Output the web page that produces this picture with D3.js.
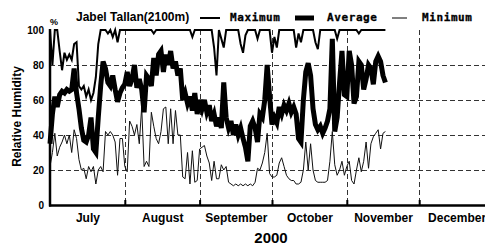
<!DOCTYPE html>
<html><head><meta charset="utf-8">
<script src="https://cdn.jsdelivr.net/npm/d3@7"></script>
<style>body{margin:0;background:#fff;} svg{display:block;}</style>
</head><body><svg id="c" width="485" height="246"></svg>
<script>
// ---- data (daily, starting 1 July 2000) ----
const startYear = 2000, startMonth = 6, startDay = 1;
const maxValues = [
 100,80,100,100,88,77,87,83,86,83,
 92,93,68,66,68,62,66,60,64,73,
 92,100,100,100,98,100,96,100,93,100,
 100,100,100,100,100,100,100,100,100,100,
 100,100,100,98,100,100,100,100,100,100,
 100,100,100,100,100,100,100,100,100,96,
 100,100,100,100,100,100,100,100,90,74,
 100,95,90,100,100,100,100,100,100,92,
 87,97,100,100,100,100,95,100,100,100,
 100,100,87,96,90,100,100,100,100,100,
 100,100,90,98,93,100,100,100,100,100,
 93,89,100,100,100,100,100,100,100,95,
 100,100,100,100,100,100,100,100,98,100,
 100,100,100,100,100,100,100,100,100,100
];
const avgValues = [
 35,52,62,56,63,65,64,66,65,66,78,
 64,55,44,37,36,40,50,32,30,50,68,
 82,78,70,68,74,66,59,64,67,69,76,68,72,80,67,72,66,53,74,
 72,68,84,74,86,
 88,76,86,80,88,78,82,74,78,
 60,64,58,62,54,64,52,
 60,55,60,53,57,48,52,45,50,44,70,50,44,48,40,46,40,44,38,33,25,45,48,44,36,52,50,60,80,62,46,50,47,
 56,52,57,54,58,53,56,52,
 38,36,60,76,81,74,55,46,43,45,41,44,48,55,
 95,42,50,70,88,63,62,88,80,58,62,82,80,66,72,80,78,69,82,85,82,74,70
];
const minValues = [
 22,30,41,28,33,36,40,35,40,30,
 43,38,26,20,21,15,22,19,22,12,
 20,22,19,42,40,42,40,36,17,38,
 38,22,19,48,45,40,46,35,56,22,
 25,22,53,45,38,35,42,55,56,35,
 55,35,54,40,40,16,15,30,12,31,
 13,14,32,33,34,28,24,14,25,15,
 15,23,20,22,13,12,11,12,11,12,
 11,12,11,12,11,13,21,20,24,30,
 41,18,16,16,17,24,27,22,17,15,
 14,14,12,12,13,20,36,20,35,20,
 14,13,13,13,13,14,25,42,23,17,
 20,25,17,22,25,14,12,20,27,19,
 25,36,21,35,39,41,43,32,41,42
];
const monthNames = ["July","August","September","October","November","December"];
const yTicks = [0,20,40,60,80,100];
const gridValues = [20,40,60,80];
const titleText = "Jabel Tallan(2100m)";
const seriesNames = ["Maximum","Average","Minimum"];
const xLabel = "2000";
const yLabel = "Relative Humidity";
const unitLabel = "%";

// ---- chart ----
const svg = d3.select("#c");
const t0 = Date.UTC(startYear, startMonth, startDay);
const domainStart = new Date(Date.UTC(startYear, 6, 1));
const domainEnd = new Date(Date.UTC(startYear + 1, 0, 1));
const x = d3.scaleUtc().domain([domainStart, domainEnd]).range([50, 494]);
const y = d3.scaleLinear().domain([0, 100]).range([205, 30]);
const dates = maxValues.map((_, i) => new Date(t0 + i * 864e5));
const monthStarts = d3.utcMonth.range(domainStart, domainEnd);
const boundaries = monthStarts.slice(1);
const mids = monthStarts.map(m => new Date((+m + +d3.utcMonth.offset(m, 1)) / 2));

// grid
const grid = svg.append("g").attr("stroke", "#333").attr("stroke-width", 1).attr("stroke-dasharray", "5,3");
grid.selectAll(".h").data(gridValues).join("line")
  .attr("x1", 50).attr("x2", 494).attr("y1", d => Math.round(y(d)) + 0.5).attr("y2", d => Math.round(y(d)) + 0.5);
grid.selectAll(".v").data(boundaries).join("line")
  .attr("x1", d => Math.round(x(d)) + 0.5).attr("x2", d => Math.round(x(d)) + 0.5).attr("y1", y(100)).attr("y2", y(0));

// x ticks (inward)
const xTickAxis = svg.append("g").attr("transform", `translate(0,${y(0)})`)
  .call(d3.axisBottom(x).tickValues(boundaries).tickSizeInner(-5).tickSizeOuter(0).tickFormat(""));
xTickAxis.select(".domain").remove();
xTickAxis.selectAll("line").attr("stroke", "#000").attr("stroke-width", 2);

// month labels
const mAxis = svg.append("g").attr("transform", `translate(0,${y(0)})`)
  .call(d3.axisBottom(x).tickValues(mids).tickSize(0).tickPadding(8).tickFormat((d, i) => monthNames[i]));
mAxis.select(".domain").remove();
mAxis.selectAll("text").attr("font-family", "Liberation Sans, Arial, sans-serif").attr("font-weight", "bold").attr("font-size", 12).attr("fill", "#000");

// y axis labels
const yAxis = svg.append("g").attr("transform", "translate(50,0)")
  .call(d3.axisLeft(y).tickValues(yTicks).tickSize(0).tickPadding(6));
yAxis.select(".domain").remove();
yAxis.selectAll("text").attr("font-family", "Liberation Sans, Arial, sans-serif").attr("font-weight", "bold").attr("font-size", 10).attr("fill", "#000");

// series
const line = d3.line().x((d, i) => x(dates[i])).y(d => y(d));
svg.append("path").datum(minValues).attr("d", line).attr("fill", "none").attr("stroke", "#111").attr("stroke-width", 1);
svg.append("path").datum(maxValues).attr("d", line).attr("fill", "none").attr("stroke", "#000").attr("stroke-width", 2);
svg.append("path").datum(avgValues).attr("d", line).attr("fill", "none").attr("stroke", "#000").attr("stroke-width", 5);

// axes lines
svg.append("line").attr("x1", 50).attr("x2", 50).attr("y1", 29).attr("y2", 206.5).attr("stroke", "#000").attr("stroke-width", 2.5);
svg.append("line").attr("x1", 49).attr("x2", 494).attr("y1", 205.5).attr("y2", 205.5).attr("stroke", "#000").attr("stroke-width", 2.5);

// texts
const sans = "Liberation Sans, Arial, sans-serif";
svg.append("text").attr("x", 50).attr("y", 25).attr("font-family", sans).attr("font-weight", "bold").attr("font-size", 9).text(unitLabel);
svg.append("text").attr("transform", "translate(21,116.5) rotate(-90)").attr("text-anchor", "middle")
  .attr("font-family", sans).attr("font-weight", "bold").attr("font-size", 12).text(yLabel);
svg.append("text").attr("x", 271).attr("y", 243).attr("text-anchor", "middle")
  .attr("font-family", sans).attr("font-weight", "bold").attr("font-size", 15).text(xLabel);

// legend
svg.append("text").attr("x", 76).attr("y", 21).attr("font-family", sans).attr("font-weight", "bold").attr("font-size", 12).text(titleText);
const legItems = [
  {name: seriesNames[0], x1: 200, x2: 220, w: 2, tx: 230},
  {name: seriesNames[1], x1: 295, x2: 314, w: 5, tx: 327},
  {name: seriesNames[2], x1: 392, x2: 407, w: 1, tx: 422}
];
const leg = svg.append("g");
leg.selectAll("line").data(legItems).join("line")
  .attr("x1", d => d.x1).attr("x2", d => d.x2).attr("y1", 18).attr("y2", 18)
  .attr("stroke", "#000").attr("stroke-width", d => d.w);
leg.selectAll("text").data(legItems).join("text")
  .attr("x", d => d.tx).attr("y", 21)
  .attr("font-family", "DejaVu Sans Mono, monospace").attr("font-weight", "bold").attr("font-size", 11)
  .attr("letter-spacing", 0.6)
  .attr("stroke", "#000").attr("stroke-width", 0.3)
  .text(d => d.name);
</script>
</body></html>
